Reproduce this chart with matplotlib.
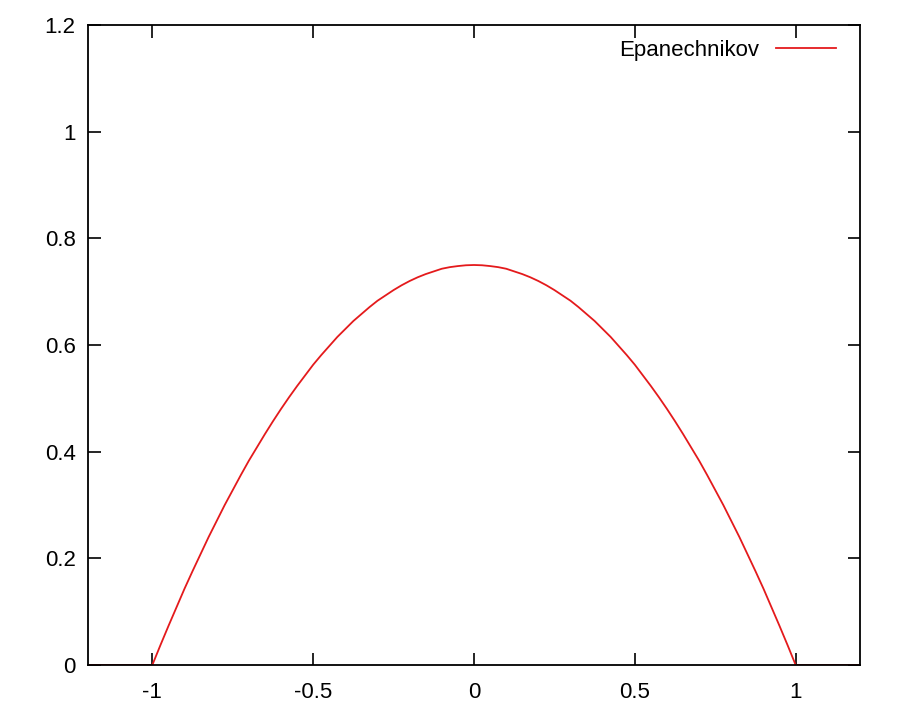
import matplotlib
matplotlib.use('Agg')
from matplotlib import pyplot as plt

# -- data --
x_vals = [-1.2, -1.0, -0.975, -0.95, -0.925, -0.9, -0.875, -0.85, -0.825, -0.8,
          -0.775, -0.75, -0.725, -0.7, -0.675, -0.65, -0.625, -0.6, -0.575, -0.55,
          -0.525, -0.5, -0.475, -0.45, -0.425, -0.4, -0.375, -0.35, -0.325, -0.3,
          -0.275, -0.25, -0.225, -0.2, -0.175, -0.15, -0.125, -0.1, -0.075, -0.05,
          -0.025, 0.0, 0.025, 0.05, 0.075, 0.1, 0.125, 0.15, 0.175, 0.2,
          0.225, 0.25, 0.275, 0.3, 0.325, 0.35, 0.375, 0.4, 0.425, 0.45,
          0.475, 0.5, 0.525, 0.55, 0.575, 0.6, 0.625, 0.65, 0.675, 0.7,
          0.725, 0.75, 0.775, 0.8, 0.825, 0.85, 0.875, 0.9, 0.925, 0.95,
          0.975, 1.0, 1.2]
y_vals = [0.0, 0.0, 0.037, 0.073, 0.108, 0.143, 0.176, 0.208, 0.240, 0.270,
          0.300, 0.328, 0.356, 0.383, 0.408, 0.433, 0.457, 0.480, 0.502, 0.523,
          0.543, 0.563, 0.581, 0.598, 0.615, 0.630, 0.645, 0.658, 0.671, 0.683,
          0.693, 0.703, 0.712, 0.720, 0.727, 0.733, 0.738, 0.743, 0.746, 0.748,
          0.7495, 0.750, 0.7495, 0.748, 0.746, 0.743, 0.738, 0.733, 0.727, 0.720,
          0.712, 0.703, 0.693, 0.683, 0.671, 0.658, 0.645, 0.630, 0.615, 0.598,
          0.581, 0.563, 0.543, 0.523, 0.502, 0.480, 0.457, 0.433, 0.408, 0.383,
          0.356, 0.328, 0.300, 0.270, 0.240, 0.208, 0.176, 0.143, 0.108, 0.073,
          0.037, 0.0, 0.0]
x_ticks = [-1, -0.5, 0, 0.5, 1]
x_labels = ['-1', '-0.5', '0', '0.5', '1']
y_ticks = [0, 0.2, 0.4, 0.6, 0.8, 1, 1.2]
y_labels = ['0', '0.2', '0.4', '0.6', '0.8', '1', '1.2']

plt.rcParams['font.family'] = ['Liberation Sans', 'DejaVu Sans']

fig = plt.figure(figsize=(9, 7.2), dpi=100)
ax = fig.add_axes([88 / 900, 1 - 665 / 720, (860 - 88) / 900, (665 - 25) / 720])

ax.plot(x_vals, y_vals, color='#e41a1c', lw=1.3, label='Epanechnikov')
ax.set_xlim(-1.2, 1.2)
ax.set_ylim(0, 1.2)
ax.set_xticks(x_ticks)
ax.set_xticklabels(x_labels)
ax.set_yticks(y_ticks)
ax.set_yticklabels(y_labels)
ax.tick_params(direction='in', top=True, right=True, length=9, width=1.2,
               labelsize=16)
ax.tick_params(axis='x', pad=12)
ax.tick_params(axis='y', pad=9)
for s in ax.spines.values():
    s.set_linewidth(1.3)

ax.legend(loc='upper right', frameon=False, markerfirst=False, fontsize=16,
          handlelength=2.7, handletextpad=0.75, borderaxespad=0.5,
          bbox_to_anchor=(0.995, 1.008))

fig.savefig('out.png', dpi=100, facecolor='white')
